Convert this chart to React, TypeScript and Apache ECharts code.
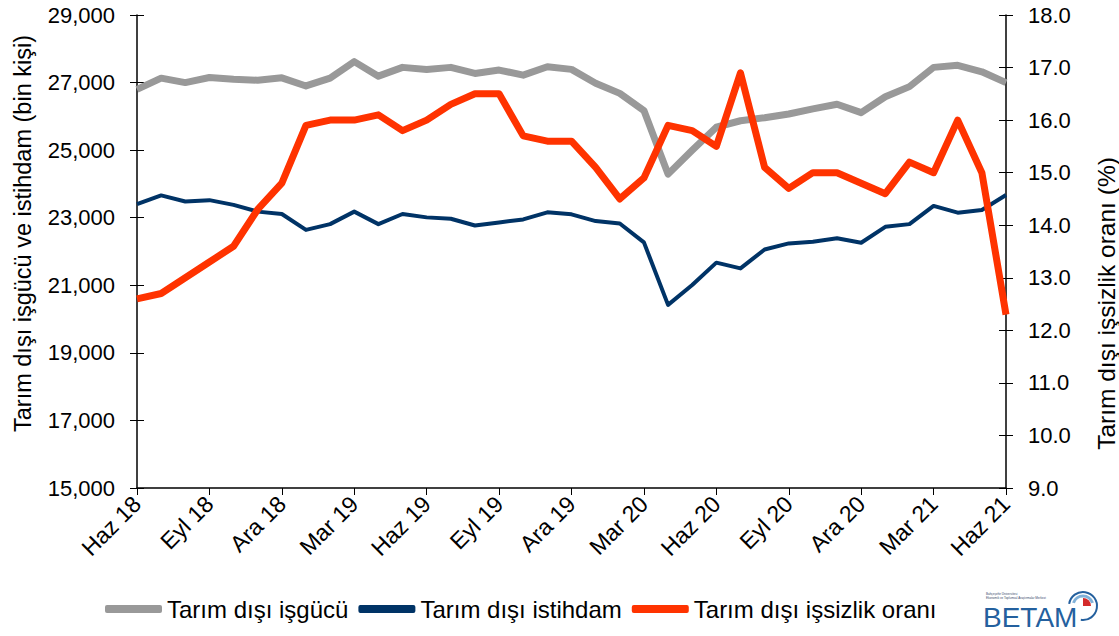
import React, { useEffect, useRef } from "react";
import * as echarts from "echarts";

const months = [
  "Haz 18", "Tem 18", "Ağu 18", "Eyl 18", "Eki 18", "Kas 18", "Ara 18",
  "Oca 19", "Şub 19", "Mar 19", "Nis 19", "May 19", "Haz 19", "Tem 19",
  "Ağu 19", "Eyl 19", "Eki 19", "Kas 19", "Ara 19", "Oca 20", "Şub 20",
  "Mar 20", "Nis 20", "May 20", "Haz 20", "Tem 20", "Ağu 20", "Eyl 20",
  "Eki 20", "Kas 20", "Ara 20", "Oca 21", "Şub 21", "Mar 21", "Nis 21",
  "May 21", "Haz 21",
];

const labourForce = [
  26800, 27130, 27000, 27150, 27100, 27070, 27140, 26900, 27130, 27620,
  27190, 27450, 27390, 27450, 27270, 27370, 27220, 27470, 27390, 26980,
  26680, 26170, 24290, 25000, 25680, 25870, 25960, 26070, 26220, 26360,
  26110, 26580, 26880, 27450, 27510, 27320, 27000,
];

const employment = [
  23400, 23660, 23480, 23520, 23380, 23180, 23110, 22640, 22810, 23180,
  22810, 23110, 23010, 22970, 22770, 22860, 22950, 23160, 23100, 22900,
  22830, 22270, 20420, 21010, 21670, 21500, 22060, 22240, 22290, 22390,
  22260, 22730, 22810, 23350, 23150, 23230, 23670,
];

const unemploymentRate = [
  12.6, 12.7, 13.0, 13.3, 13.6, 14.3, 14.8, 15.9, 16.0, 16.0,
  16.1, 15.8, 16.0, 16.3, 16.5, 16.5, 15.7, 15.6, 15.6, 15.1,
  14.5, 14.9, 15.9, 15.8, 15.5, 16.9, 15.1, 14.7, 15.0, 15.0,
  14.8, 14.6, 15.2, 15.0, 16.0, 15.0, 12.3,
];

const seriesNames = [
  "Tarım dışı işgücü",
  "Tarım dışı istihdam",
  "Tarım dışı işsizlik oranı",
];

const leftAxisName = "Tarım dışı işgücü ve istihdam (bin kişi)";
const rightAxisName = "Tarım dışı işsizlik oranı (%)";

const FONT = "'Liberation Sans', Arial, sans-serif";

export default function App() {
  const ref = useRef<HTMLDivElement>(null);

  useEffect(() => {
    document.body.style.margin = "0";
    if (!ref.current) return;
    const chart = echarts.init(ref.current, undefined, { renderer: "svg" });

    const leftCommon = {
      type: "value",
      min: 15000,
      max: 29000,
      interval: 2000,
      splitLine: { show: false },
    };
    const rightCommon = {
      type: "value",
      min: 9,
      max: 18,
      interval: 1,
      splitLine: { show: false },
    };

    chart.setOption({
      animation: false,
      backgroundColor: "#ffffff",
      textStyle: { fontFamily: FONT },
      grid: {
        left: 137,
        right: 113,
        top: 15,
        bottom: 148,
        containLabel: false,
        outerBoundsMode: "none",
      },
      legend: {
        left: 100,
        top: 592,
        itemWidth: 57,
        itemHeight: 8,
        itemGap: 10,
        icon: "roundRect",
        textStyle: { fontSize: 24, color: "#000", fontFamily: FONT },
        data: seriesNames,
      },
      xAxis: {
        type: "category",
        data: months,
        boundaryGap: false,
        axisLine: { lineStyle: { color: "#000", width: 1.5 } },
        axisTick: {
          show: true,
          interval: 2,
          length: 7,
          lineStyle: { color: "#000" },
        },
        axisLabel: {
          interval: 2,
          rotate: 45,
          margin: 12,
          fontSize: 23,
          color: "#000",
          fontFamily: FONT,
        },
      },
      yAxis: [
        {
          ...leftCommon,
          position: "left",
          name: leftAxisName,
          nameLocation: "middle",
          nameGap: 102,
          nameRotate: 90,
          nameTextStyle: {
            fontSize: 23.5,
            color: "#000",
            fontFamily: FONT,
            padding: [0, 0, 0, 36],
          },
          axisLine: { show: true, lineStyle: { color: "#000", width: 1.5 } },
          axisTick: { show: true, length: 7, lineStyle: { color: "#000" } },
          axisLabel: {
            margin: 22,
            fontSize: 22,
            color: "#000",
            fontFamily: FONT,
            formatter: (v: number) => v.toLocaleString("en-US"),
          },
        },
        {
          ...rightCommon,
          position: "right",
          name: rightAxisName,
          nameLocation: "middle",
          nameGap: 88,
          nameRotate: 90,
          nameTextStyle: {
            fontSize: 24.5,
            color: "#000",
            fontFamily: FONT,
            padding: [0, 104, 0, 0],
          },
          axisLine: { show: true, lineStyle: { color: "#000", width: 1.5 } },
          axisTick: { show: true, length: 7, lineStyle: { color: "#000" } },
          axisLabel: {
            margin: 22,
            fontSize: 22,
            color: "#000",
            fontFamily: FONT,
            formatter: (v: number) => v.toFixed(1),
          },
        },
        {
          ...leftCommon,
          position: "left",
          axisLine: { show: false },
          axisTick: { show: true, inside: true, length: 7, lineStyle: { color: "#000" } },
          axisLabel: { show: false },
        },
        {
          ...rightCommon,
          position: "right",
          axisLine: { show: false },
          axisTick: { show: true, inside: true, length: 7, lineStyle: { color: "#000" } },
          axisLabel: { show: false },
        },
      ],
      series: [
        {
          name: seriesNames[0],
          type: "line",
          yAxisIndex: 0,
          data: labourForce,
          showSymbol: false,
          symbol: "none",
          color: "#999999",
          lineStyle: { color: "#999999", width: 7, join: "round" },
          z: 2,
        },
        {
          name: seriesNames[1],
          type: "line",
          yAxisIndex: 0,
          data: employment,
          showSymbol: false,
          symbol: "none",
          color: "#003366",
          lineStyle: { color: "#003366", width: 4, join: "round" },
          z: 3,
        },
        {
          name: seriesNames[2],
          type: "line",
          yAxisIndex: 1,
          data: unemploymentRate,
          showSymbol: false,
          symbol: "none",
          color: "#ff3300",
          lineStyle: { color: "#ff3300", width: 7, join: "round" },
          z: 4,
        },
      ],
      graphic: [
        {
          type: "text",
          left: 983,
          top: 603,
          style: {
            text: "BETAM",
            fontSize: 28,
            fontFamily: FONT,
            fill: "#24609e",
          },
        },
        {
          type: "text",
          left: 986,
          top: 592,
          style: {
            text: "Bahçeşehir Üniversitesi\nEkonomik ve Toplumsal Araştırmalar Merkezi",
            fontSize: 3,
            lineHeight: 4,
            fontFamily: FONT,
            fill: "#3a4a6a",
          },
        },
        {
          type: "arc",
          shape: { cx: 1083, cy: 606, r: 14, startAngle: -Math.PI * 0.95, endAngle: Math.PI * 0.55 },
          style: { stroke: "#24609e", lineWidth: 2, fill: "none" },
        },
        {
          type: "arc",
          shape: { cx: 1083, cy: 606, r: 10, startAngle: -Math.PI * 0.9, endAngle: -Math.PI * 0.1 },
          style: { stroke: "#7fb0d8", lineWidth: 3, fill: "none" },
        },
        {
          type: "sector",
          shape: { cx: 1083, cy: 606, r0: 0, r: 8, startAngle: -Math.PI / 2, endAngle: 0 },
          style: { fill: "#d42a2a" },
        },
      ],
    });

    return () => {
      chart.dispose();
    };
  }, []);

  return <div ref={ref} style={{ width: 1119, height: 636 }} />;
}
